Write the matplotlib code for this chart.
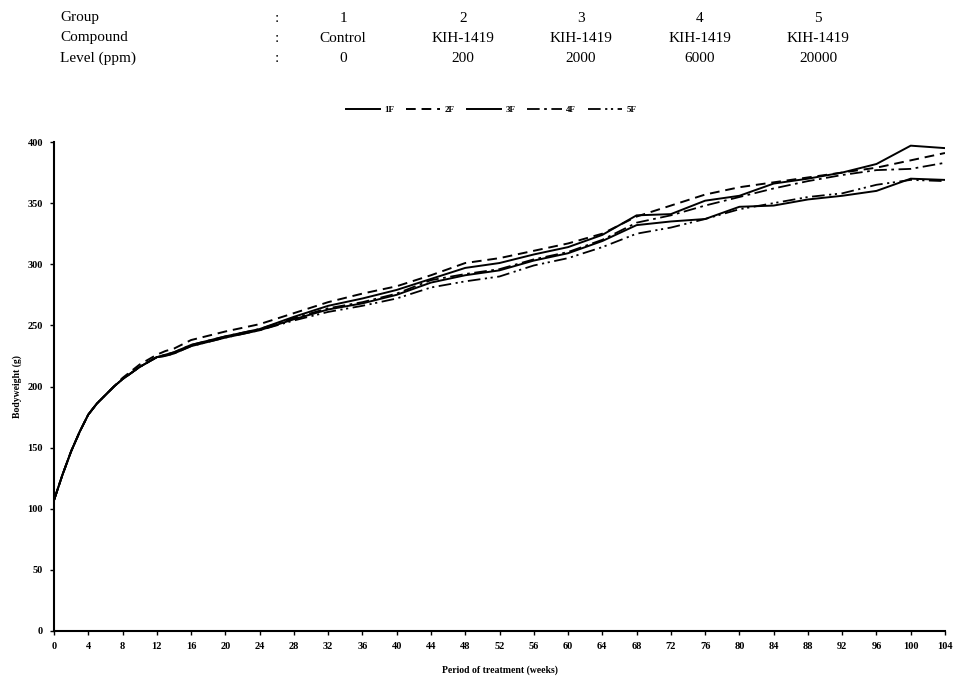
import matplotlib
matplotlib.use("Agg")
import matplotlib.pyplot as plt

weeks = [0, 1, 2, 3, 4, 5, 6, 7, 8, 10, 12, 13, 14, 16, 20, 24, 28, 32, 36, 40, 44,
         48, 52, 56, 60, 64, 68, 72, 76, 80, 84, 88, 92, 96, 100, 104]

bw_1F = [107, 128, 147, 163, 177, 186, 193, 200, 206, 216, 224, 226, 228, 234, 241, 247, 257,
         266, 272, 279, 288, 297, 301, 308, 314, 324, 340, 341, 352, 356, 366, 370, 375, 382, 397, 395]
bw_2F = [107, 128, 147, 163, 177, 186, 193, 200, 207, 218, 226, 229, 231, 238, 245, 251, 260,
         269, 276, 282, 291, 301, 305, 311, 317, 325, 339, 348, 357, 363, 367, 371, 375, 379, 385, 391]
bw_3F = [107, 128, 147, 163, 177, 186, 193, 200, 206, 216, 224, 225, 227, 233, 240, 246, 255,
         263, 268, 275, 285, 291, 295, 303, 309, 319, 332, 335, 337, 347, 348, 353, 356, 360, 370, 369]
bw_4F = [107, 128, 147, 163, 177, 186, 193, 200, 206, 216, 224, 226, 228, 234, 241, 247, 256,
         264, 269, 276, 287, 292, 296, 304, 310, 320, 334, 340, 348, 355, 362, 368, 373, 377, 378, 383]
bw_5F = [107, 128, 147, 163, 177, 186, 193, 200, 206, 216, 224, 225, 227, 233, 240, 246, 254,
         261, 266, 272, 281, 286, 290, 299, 305, 314, 325, 330, 337, 345, 350, 355, 358, 365, 369, 368]

series_labels = ["1F", "2F", "3F", "4F", "5F"]
series_values = [bw_1F, bw_2F, bw_3F, bw_4F, bw_5F]

header_rows = ["Group", "Compound", "Level (ppm)"]
group_numbers = ["1", "2", "3", "4", "5"]
compounds = ["Control", "KIH-1419", "KIH-1419", "KIH-1419", "KIH-1419"]
levels = ["0", "200", "2000", "6000", "20000"]

x_ticks = list(range(0, 105, 4))
y_ticks = list(range(0, 401, 50))

serif = ["Liberation Serif", "DejaVu Serif"]
plt.rcParams['font.family'] = serif

fig = plt.figure(figsize=(9.6, 6.81), dpi=100)
ax = fig.add_axes([54 / 960, 50 / 681, 891 / 960, 489 / 681])

styles = [
    dict(linestyle="-", linewidth=1.4),
    dict(linestyle=(0, (5, 3)), linewidth=1.4),
    dict(linestyle="-", linewidth=1.4),
    dict(linestyle=(0, (7, 2.5, 1.5, 2.5)), linewidth=1.3),
    dict(linestyle=(0, (7, 2.5, 1.2, 2, 1.2, 2.5)), linewidth=1.3),
]

for lab, vals, st in zip(series_labels, series_values, styles):
    ax.plot(weeks, vals, color="black", label=lab, **st)

ax.set_xlim(0, 104)
ax.set_ylim(0, 400)
ax.set_xticks(x_ticks)
ax.set_yticks(y_ticks)
for s in ["top", "right"]:
    ax.spines[s].set_visible(False)
for s in ["left", "bottom"]:
    ax.spines[s].set_linewidth(1.5)
ax.tick_params(axis="both", direction="out", length=3, width=1, labelsize=7.5, pad=5)
for t in ax.get_xticklabels() + ax.get_yticklabels():
    t.set_fontweight("bold")

ax.set_xlabel("Period of treatment (weeks)", fontsize=7, fontweight="bold", labelpad=10)
ax.set_ylabel("Bodyweight (g)", fontsize=7, fontweight="bold", labelpad=4)

leg = ax.legend(loc="center", bbox_to_anchor=(491 / 960, 1 - 110 / 681),
                bbox_transform=fig.transFigure, ncol=5, frameon=False,
                fontsize=6.5, handlelength=3.8, handletextpad=0.5, columnspacing=1.3)
for t in leg.get_texts():
    t.set_fontweight("bold")

row_y = [18, 38, 58]
col_x = [343, 463, 581, 700, 818]
for i, (name, vals) in enumerate(zip(header_rows, [group_numbers, compounds, levels])):
    y = 1 - row_y[i] / 681
    fig.text(60 / 960, y, name, fontsize=11, ha="left", va="center")
    fig.text(277 / 960, y, ":", fontsize=11, ha="center", va="center")
    for cx, v in zip(col_x, vals):
        fig.text(cx / 960, y, v, fontsize=11, ha="center", va="center")

fig.savefig("out.png", dpi=100)
